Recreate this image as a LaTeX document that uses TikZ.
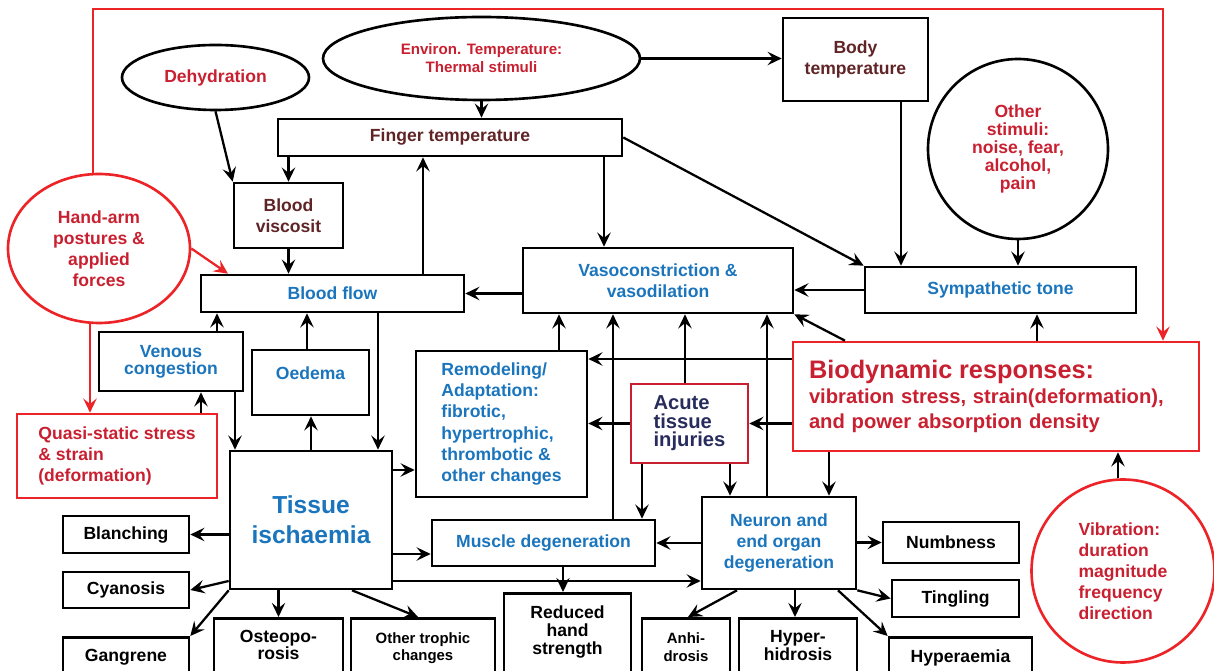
\documentclass[tikz,border=0pt]{standalone}
\usepackage{fontspec}
\setmainfont{Liberation Sans}
\usepackage{color}
\usepackage{tikz}
\usetikzlibrary{arrows.meta,shapes.geometric}

\definecolor{hred}{RGB}{236,36,40}
\definecolor{hredtext}{RGB}{200,32,48}
\definecolor{hblue}{RGB}{27,117,188}
\definecolor{hbrown}{RGB}{96,36,38}
\definecolor{hnavy}{RGB}{40,44,92}
\newlength{\px}
\setlength{\px}{0.02cm}

\tikzset{
  box/.style={draw, line width=1.5pt, inner sep=0pt, align=center, font=\bfseries},
  redbox/.style={box, draw=hred},
  oval/.style={box, ellipse},
  leaf/.style={box, anchor=north, inner ysep=7pt, text depth=40pt},
  arr/.style={line width=1.3pt, -{Stealth[length=8pt,width=7.6pt,inset=3pt]}},
  redarr/.style={arr, draw=hred},
}

\begin{document}
\begin{tikzpicture}[x=\px,y=-\px]
\useasboundingbox (0,0) rectangle (1214,671);
\clip (0,0) rectangle (1214,671);

\node[oval, draw=hred, minimum width=182\px, minimum height=149\px, text=hredtext] (hand) at (99,248.5) {Hand-arm\\postures \&\\applied\\forces};
\node[oval, minimum width=187\px, minimum height=65\px, text=hredtext] (dehy) at (215.5,77.5) {Dehydration};
\node[oval, minimum width=317\px, minimum height=83\px, text=hredtext, font=\bfseries\fontsize{8.6}{10.3}\selectfont] (env) at (481.5,58.5) {Environ. Temperature:\\Thermal stimuli};
\node[box, minimum width=145\px, minimum height=83\px, text=hbrown] (body) at (855.5,59.5) {Body\\temperature};
\node[box, minimum width=344\px, minimum height=37\px, text=hbrown] (fing) at (450,137.5) {Finger temperature};
\node[box, minimum width=109\px, minimum height=65\px, text=hbrown] (visc) at (288.5,215.5) {Blood\\viscosit};
\node[box, minimum width=263\px, minimum height=37\px, text=hblue] (bflow) at (332.5,293.5) {Blood flow};
\node[box, minimum width=270\px, minimum height=65\px, text=hblue] (vaso) at (658,280.5) {Vasoconstriction \&\\vasodilation};
\node[box, minimum width=271\px, minimum height=46\px, text=hblue] (symp) at (1000.5,290) {Sympathetic tone};
\node[box, circle, minimum size=180\px, text=hredtext, font=\bfseries\fontsize{10}{10.3}\selectfont] (other) at (1018,149) {Other\\stimuli:\\noise, fear,\\alcohol,\\pain};
\node[box, minimum width=144\px, minimum height=59\px, text=hblue, font=\bfseries\fontsize{10}{9.8}\selectfont] (venous) at (171,361.5) {Venous\\congestion};
\node[box, minimum width=117\px, minimum height=65\px, text=hblue, text depth=11pt] (oedema) at (310.5,382.5) {Oedema};
\node[redbox, minimum width=200\px, minimum height=84\px, align=left, text=hredtext] (quasi) at (117,456) {Quasi-static stress\\\& strain\\(deformation)};
\node[box, minimum width=171\px, minimum height=146\px, align=left, text=hblue] (remod) at (501.5,424) {Remodeling/\\Adaptation:\\fibrotic,\\hypertrophic,\\thrombotic \&\\other changes};
\node[box, draw=hredtext, minimum width=117\px, minimum height=79\px, align=left, text=hnavy, font=\bfseries\fontsize{11.5}{10.5}\selectfont] (acute) at (689.5,423.5) {Acute\\tissue\\injuries};
\node[redbox, minimum width=406\px, minimum height=109\px, text width=374\px, align=left, text=hredtext, font=\bfseries\fontsize{11.5}{14.2}\selectfont] (bio) at (996,396.5) {{\fontsize{14.4}{17}\selectfont Biodynamic responses:}\\vibration stress, strain(deformation),\\and power absorption density};
\node[box, minimum width=162\px, minimum height=138\px, text=hblue, font=\bfseries\fontsize{14}{17}\selectfont] (tissue) at (311,520) {Tissue\\ischaemia};
\node[box, minimum width=223\px, minimum height=46\px, text=hblue] (muscle) at (543.5,543) {Muscle degeneration};
\node[box, minimum width=154\px, minimum height=92\px, text=hblue] (neuron) at (779,543) {Neuron and\\end organ\\degeneration};
\node[redbox, circle, minimum size=183\px, align=left, text=hredtext] (vib) at (1123,571) {Vibration:\\duration\\magnitude\\frequency\\direction};

\node[box, minimum width=126\px, minimum height=37\px] (blanch) at (126,534.5) {Blanching};
\node[box, minimum width=126\px, minimum height=36\px] (cyan) at (126,590) {Cyanosis};
\node[leaf, minimum width=126\px] (gang) at (126,636) {Gangrene};
\node[leaf, minimum width=129\px, font=\bfseries\fontsize{10}{9.5}\selectfont] (osteo) at (278.5,617) {Osteopo-\\rosis};
\node[leaf, minimum width=144\px, inner ysep=8pt, font=\bfseries\fontsize{8.5}{9.7}\selectfont] (otroph) at (423,617) {Other trophic\\changes};
\node[leaf, minimum width=127\px, font=\bfseries\fontsize{10}{10.2}\selectfont] (reduced) at (567.5,592) {Reduced\\hand\\strength};
\node[leaf, minimum width=88\px, inner ysep=8pt, font=\bfseries\fontsize{8.5}{10.2}\selectfont] (anhi) at (686,617) {Anhi-\\drosis};
\node[leaf, minimum width=118\px, font=\bfseries\fontsize{10}{10.2}\selectfont] (hyperh) at (798,617) {Hyper-\\hidrosis};
\node[box, minimum width=136\px, minimum height=41\px] (numb) at (951,542.5) {Numbness};
\node[box, minimum width=127\px, minimum height=37\px] (ting) at (955.5,598.5) {Tingling};
\node[leaf, minimum width=143\px] (hyperae) at (960.5,636) {Hyperaemia};

\draw[arr] (env.south) -- (env.south |- fing.north);
\draw[arr] (env.east) -- (env.east -| body.west);
\draw[arr] (dehy.south) -- (visc.north west);
\draw[arr] (fing.south -| visc.north) -- (visc.north);
\draw[arr] (visc.south) -- (visc.south |- bflow.north);
\draw[arr] (bflow.north -| 423,0) -- (fing.south -| 423,0);
\draw[arr] (vaso.west |- bflow.east) -- (bflow.east);
\draw[arr] (fing.south -| 604,0) -- (vaso.north -| 604,0);
\draw[arr] (fing.east) -- (symp.north west);
\draw[arr] (body.south -| 901,0) -- (symp.north -| 901,0);
\draw[arr] (other.south) -- (other.south |- symp.north);
\draw[arr] (symp.west) -- (symp.west -| vaso.east);
\draw[arr] (bio.north -| 845,0) -- (vaso.south east);
\draw[arr] (bio.north -| 1037,0) -- (symp.south -| 1037,0);
\draw[arr] (remod.north -| 559,0) -- (vaso.south -| 559,0);
\draw[arr] (muscle.north -| 613,0) -- (vaso.south -| 613,0);
\draw[arr] (acute.north -| 685,0) -- (vaso.south -| 685,0);
\draw[arr] (neuron.north -| 767,0) -- (vaso.south -| 767,0);
\draw[arr] (bio.west |- 0,359) -- (remod.east |- 0,359);
\draw[arr] (acute.west) -- (acute.west -| remod.east);
\draw[arr] (bio.west |- acute.east) -- (acute.east);
\draw[arr] (tissue.east |- 0,470) -- (remod.west |- 0,470);
\draw[arr] (acute.south -| 642,0) -- (muscle.north -| 642,0);
\draw[arr] (acute.south -| 730,0) -- (neuron.north -| 730,0);
\draw[arr] (bio.south -| 829,0) -- (neuron.north -| 829,0);
\draw[arr] (vib.north -| 1118,0) -- (bio.south -| 1118,0);
\draw[arr] (neuron.west) -- (neuron.west -| muscle.east);
\draw[arr] (neuron.east |- numb.west) -- (numb.west);
\draw[arr] (neuron.south east) -- (ting.west);
\draw[arr] (neuron.south -| 838,0) -- (hyperae.north west);
\draw[arr] (neuron.south -| 795,0) -- (hyperh.north -| 795,0);
\draw[arr] (neuron.south -| 737,0) -- (anhi.north -| 688,0);
\draw[arr] (tissue.east |- 0,554) -- (muscle.west |- 0,554);
\draw[arr] (tissue.east |- 0,581) -- (neuron.west |- 0,581);
\draw[arr] (muscle.south -| 563,0) -- (reduced.north -| 563,0);
\draw[arr] (venous.south -| 235,0) -- (tissue.north -| 235,0);
\draw[arr] (quasi.north -| 201,0) -- (venous.south -| 201,0);
\draw[arr] (tissue.north -| 311,0) -- (oedema.south -| 311,0);
\draw[arr] (oedema.north -| 307,0) -- (bflow.south -| 307,0);
\draw[arr] (bflow.south -| 378,0) -- (tissue.north -| 378,0);
\draw[arr] (venous.north -| 217,0) -- (bflow.south -| 217,0);
\draw[arr] (tissue.west |- blanch.east) -- (blanch.east);
\draw[arr] (tissue.west |- 0,581) -- (cyan.east);
\draw[arr] (tissue.south west) -- (gang.north east);
\draw[arr] (tissue.south -| osteo.north) -- (osteo.north);
\draw[arr] (tissue.south -| 352,0) -- (otroph.north -| 418,0);

\draw[redarr] (hand.east) -- (bflow.north -| 228,0);
\draw[redarr] (hand.south -| 90,0) -- (quasi.north -| 90,0);
\draw[redarr] (hand.north -| 93,0) |- (1163,9) -- (bio.north -| 1163,0);
\end{tikzpicture}
\end{document}
